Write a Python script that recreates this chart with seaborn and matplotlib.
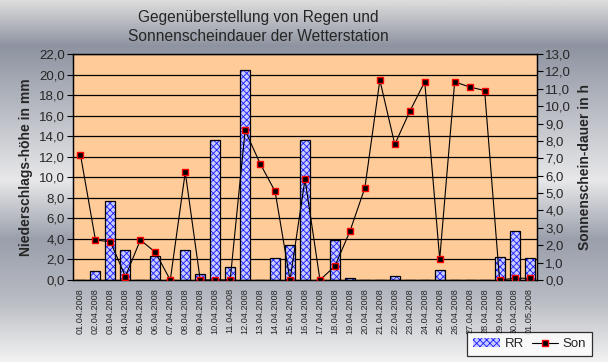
import numpy as np
import pandas as pd
import matplotlib
matplotlib.use("Agg")
import matplotlib.pyplot as plt
import seaborn as sns
from matplotlib.colors import LinearSegmentedColormap
from matplotlib.patches import Patch
from matplotlib.lines import Line2D
from matplotlib.ticker import FuncFormatter, MultipleLocator

# ---- data ----
dates = ["01.04.2008", "02.04.2008", "03.04.2008", "04.04.2008", "05.04.2008",
         "06.04.2008", "07.04.2008", "08.04.2008", "09.04.2008", "10.04.2008",
         "11.04.2008", "12.04.2008", "13.04.2008", "14.04.2008", "15.04.2008",
         "16.04.2008", "17.04.2008", "18.04.2008", "19.04.2008", "20.04.2008",
         "21.04.2008", "22.04.2008", "23.04.2008", "24.04.2008", "25.04.2008",
         "26.04.2008", "27.04.2008", "28.04.2008", "29.04.2008", "30.04.2008",
         "01.05.2008"]
rr = [0.0, 0.9, 7.7, 2.9, 0.0, 2.3, 0.0, 2.9, 0.6, 13.6,
      1.3, 20.4, 0.0, 2.1, 3.4, 13.6, 0.0, 3.9, 0.2, 0.0,
      0.0, 0.4, 0.0, 0.0, 1.0, 0.0, 0.0, 0.0, 2.2, 4.8,
      2.1]
son = [7.2, 2.3, 2.2, 0.2, 2.3, 1.6, 0.0, 6.2, 0.0, 0.0,
       0.0, 8.6, 6.7, 5.1, 0.0, 5.8, 0.0, 0.8, 2.8, 5.3,
       11.5, 7.8, 9.7, 11.4, 1.2, 11.4, 11.1, 10.9, 0.0, 0.1,
       0.1]
title = "Gegenüberstellung von Regen und\nSonnenscheindauer der Wetterstation"
left_label = "Niederschlags-höhe in mm"
right_label = "Sonnenschein-dauer in h"

df = pd.DataFrame({"Datum": dates, "RR": rr, "Son": son, "pos": np.arange(len(dates))})

sns.set_theme(style="white")
plt.rcParams["font.family"] = ["Liberation Sans", "DejaVu Sans"]
plt.rcParams["hatch.linewidth"] = 0.6

W, H = 608, 362
fig = plt.figure(figsize=(W / 100, H / 100), dpi=100)

# metallic gradient background
bg = fig.add_axes([0, 0, 1, 1], zorder=-10)
stops = [(0.0, "#dcdcdc"), (45 / H, "#8d93a0"), (110 / H, "#b9bcc4"),
         (180 / H, "#e8e8ea"), (240 / H, "#9a9fab"), (300 / H, "#b8bbc3"),
         (1.0, "#f2f2f2")]
cmap = LinearSegmentedColormap.from_list("metal", stops)
bg.imshow(np.linspace(0, 1, 400).reshape(-1, 1), aspect="auto", cmap=cmap,
          extent=[0, 1, 0, 1], origin="upper")
bg.set_axis_off()

L, R, T, B = 73, 537, 54, 280
ax = fig.add_axes([L / W, 1 - B / H, (R - L) / W, (B - T) / H])
ax.set_facecolor("#ffcc99")

BAR_FACE = "#c8ccff"
BAR_HATCH = "#1a1aff"
# bars: blue checkered fill + black outline
sns.barplot(data=df, x="Datum", y="RR", order=dates, ax=ax, color=BAR_FACE,
            edgecolor=BAR_HATCH, hatch="xxxxx", linewidth=0, width=0.67,
            saturation=1, zorder=2)
sns.barplot(data=df, x="Datum", y="RR", order=dates, ax=ax, fill=False,
            color="black", linewidth=0.9, width=0.67, zorder=3)

ax.set_xlim(-0.5, len(dates) - 0.5)
ax.set_ylim(0, 22)
ax.yaxis.set_major_locator(MultipleLocator(2))
fmt = FuncFormatter(lambda v, p: f"{v:.1f}".replace(".", ","))
ax.yaxis.set_major_formatter(fmt)
ax.grid(axis="y", color="black", linewidth=0.9, zorder=1)
ax.set_axisbelow(True)
ax.set_xlabel("")
ax.set_ylabel(left_label, fontsize=10, fontweight="bold", labelpad=4)
ax.set_xticks(np.arange(len(dates)))
ax.set_xticklabels(dates, rotation=90, fontsize=6.6)
ax.set_xticks(np.arange(len(dates) + 1) - 0.5, minor=True)
ax.tick_params(axis="x", which="major", length=0, pad=6)
ax.tick_params(axis="x", which="minor", length=3, width=0.8, color="black", direction="out")
ax.tick_params(axis="y", length=4, width=0.8, color="black", direction="out",
               labelsize=9.5, left=True, pad=2)
for s in ax.spines.values():
    s.set_color("black")
    s.set_linewidth(0.9)

ax2 = ax.twinx()
sns.lineplot(data=df, x="pos", y="Son", ax=ax2, color="black", linewidth=0.8,
             marker="s", markersize=4.5, markerfacecolor="black",
             markeredgecolor="red", markeredgewidth=1.0, sort=False, zorder=4)
ax2.set_ylim(0, 13)
ax2.yaxis.set_major_locator(MultipleLocator(1))
ax2.yaxis.set_major_formatter(fmt)
ax2.set_xlim(-0.5, len(dates) - 0.5)
ax2.set_xlabel("")
ax2.set_ylabel(right_label, fontsize=10, fontweight="bold", labelpad=5)
ax2.tick_params(axis="y", length=4, width=0.8, color="black", direction="out",
                labelsize=9.5, right=True, pad=2)
ax2.grid(False)
for s in ax2.spines.values():
    s.set_color("black")
    s.set_linewidth(0.9)

fig.text(258 / W, 1 - 27 / H, title, ha="center", va="center", fontsize=11.2,
         linespacing=1.3)

handles = [Patch(facecolor=BAR_FACE, edgecolor=BAR_HATCH, hatch="xxxxx", linewidth=0),
           Line2D([], [], color="black", linewidth=0.8, marker="s", markersize=4.5,
                  markerfacecolor="black", markeredgecolor="red", markeredgewidth=1.0)]
leg = fig.legend(handles, ["RR", "Son"], ncol=2, loc="lower right",
                 bbox_to_anchor=(592 / W, 1 - 356 / H), fontsize=9.5,
                 frameon=True, fancybox=False, edgecolor="black",
                 borderpad=0.45, handlelength=2.0, handleheight=0.6,
                 columnspacing=0.6, handletextpad=0.35, borderaxespad=0)
leg.get_frame().set_facecolor("white")
leg.get_frame().set_linewidth(0.9)

fig.savefig("out.png", dpi=100)
